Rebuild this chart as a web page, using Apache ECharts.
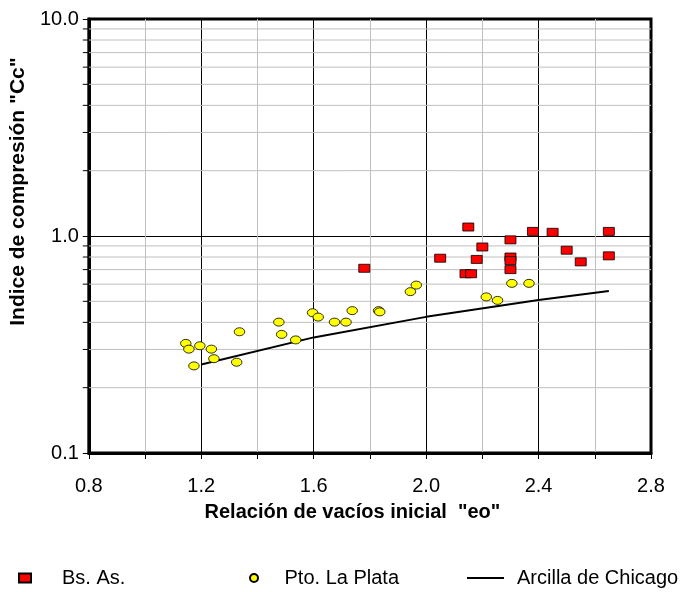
<!DOCTYPE html>
<html>
<head>
<meta charset="utf-8">
<script src="https://cdn.jsdelivr.net/npm/echarts@6/dist/echarts.min.js"></script>
<style>
html,body{margin:0;padding:0;background:#fff;}
#chart{width:684px;height:592px;}
</style>
</head>
<body>
<div id="chart"></div>
<script>
// ---- data ----
const bsAsE  = [1.78, 2.15, 2.38, 2.45, 2.65, 2.30, 2.20, 2.05, 2.18, 2.30, 2.30, 2.30, 2.14, 2.16, 2.50, 2.55, 2.65];
const bsAsCc = [0.71, 1.10, 1.05, 1.04, 1.05, 0.96, 0.89, 0.79, 0.78, 0.80, 0.77, 0.70, 0.67, 0.67, 0.86, 0.76, 0.81];

const plataE  = [1.145, 1.156, 1.195, 1.236, 1.245, 1.174, 1.336, 1.326, 1.476, 1.486, 1.536, 1.596, 1.616, 1.674, 1.715, 1.737, 1.831, 1.835, 1.944, 1.965, 2.214, 2.254, 2.305, 2.366];
const plataCc = [0.320, 0.301, 0.312, 0.301, 0.272, 0.252, 0.362, 0.262, 0.401, 0.352, 0.332, 0.443, 0.423, 0.401, 0.401, 0.453, 0.453, 0.447, 0.554, 0.594, 0.524, 0.505, 0.605, 0.605];

const chicagoE  = [1.2, 1.6, 2.0, 2.4, 2.65];
const chicagoCc = [0.256, 0.341, 0.424, 0.507, 0.558];

const seriesNames = ['Bs. As.', 'Pto. La Plata', 'Arcilla de Chicago'];
const xTitle = 'Relación de vacíos inicial  "eo"';
const yTitle = 'Indice de compresión "Cc"';

const xMin = 0.8, xMax = 2.8, xStep = 0.4;
const yMin = 0.1, yMax = 10;
const yMinorTicks = [0.2, 0.3, 0.4, 0.5, 0.6, 0.7, 0.8, 0.9, 2, 3, 4, 5, 6, 7, 8, 9];

// ---- build ----
const zip = (a, b) => a.map((v, i) => [v, b[i]]);
const FONT = "'Liberation Sans', Arial, sans-serif";
const ellipse = 'path://M0,5 A5,5 0 1,1 10,5 A5,5 0 1,1 0,5 Z';

const chart = echarts.init(document.getElementById('chart'), null, {renderer: 'canvas'});

const legendBase = {
  orient: 'horizontal', top: 568, padding: 0,
  textStyle: {fontFamily: FONT, fontSize: 20, color: '#000'},
  selectedMode: false
};

chart.setOption({
  animation: false,
  backgroundColor: '#fff',
  textStyle: {fontFamily: FONT},
  grid: {
    left: 88, right: 33, top: 19, bottom: 139,
    show: true, borderColor: '#000', borderWidth: 3, backgroundColor: 'transparent'
  },
  xAxis: {
    type: 'value', min: xMin, max: xMax, interval: xStep,
    name: xTitle, nameLocation: 'middle', nameGap: 49,
    nameTextStyle: {fontFamily: FONT, fontSize: 20, fontWeight: 'bold', color: '#000', padding: [0, 35, 0, 0]},
    axisLine: {show: true, onZero: false, lineStyle: {color: '#000', width: 3}},
    axisTick: {show: true, length: 6, lineStyle: {color: '#000', width: 1}},
    minorTick: {show: true, splitNumber: 2, length: 6, lineStyle: {color: '#000', width: 1}},
    axisLabel: {margin: 23, fontFamily: FONT, fontSize: 20, color: '#000',
      formatter: v => v.toFixed(1)},
    splitLine: {show: true, lineStyle: {color: '#000', width: 1}},
    minorSplitLine: {show: true, lineStyle: {color: '#c0c0c0', width: 1}}
  },
  yAxis: {
    type: 'log', logBase: 10, min: yMin, max: yMax,
    name: yTitle, nameLocation: 'middle', nameGap: 55, nameRotate: 90,
    nameTextStyle: {fontFamily: FONT, fontSize: 21, fontWeight: 'bold', color: '#000', padding: [0, 0, 0, 89]},
    axisLine: {show: true, onZero: false, lineStyle: {color: '#000', width: 3}},
    axisTick: {show: true, length: 6, lineStyle: {color: '#000', width: 1}},
    axisLabel: {margin: 10, fontFamily: FONT, fontSize: 20, color: '#000',
      formatter: v => v.toFixed(1)},
    splitLine: {show: true, lineStyle: {color: '#000', width: 1}}
  },
  legend: [
    Object.assign({}, legendBase, {left: 18, data: [seriesNames[0]], itemWidth: 12, itemHeight: 9,
      textStyle: Object.assign({}, legendBase.textStyle, {padding: [0, 0, 0, 26]})}),
    Object.assign({}, legendBase, {left: 249, data: [seriesNames[1]], itemWidth: 11, itemHeight: 8,
      textStyle: Object.assign({}, legendBase.textStyle, {padding: [0, 0, 0, 20]})}),
    Object.assign({}, legendBase, {left: 467, data: [{name: seriesNames[2], icon: 'rect'}], itemWidth: 37, itemHeight: 2,
      itemStyle: {color: '#000', borderWidth: 0},
      textStyle: Object.assign({}, legendBase.textStyle, {padding: [0, 0, 0, 8]})})
  ],
  series: [
    {
      type: 'custom', name: 'minor', silent: true, clip: false, z: 1,
      data: yMinorTicks.map(v => [xMin, v]),
      encode: {x: 0, y: 1},
      renderItem: function (params, api) {
        const p = api.coord([api.value(0), api.value(1)]);
        const cs = params.coordSys;
        return {
          type: 'group',
          children: [
            {type: 'line', shape: {x1: cs.x, y1: p[1], x2: cs.x + cs.width, y2: p[1]},
              style: {stroke: '#c0c0c0', lineWidth: 1}},
            {type: 'line', shape: {x1: cs.x - 6, y1: p[1], x2: cs.x, y2: p[1]},
              style: {stroke: '#000', lineWidth: 1}}
          ]
        };
      }
    },
    {
      type: 'line', name: seriesNames[2], z: 3,
      data: zip(chicagoE, chicagoCc),
      symbol: 'none', showSymbol: false,
      lineStyle: {color: '#000', width: 2},
      itemStyle: {color: '#000'}
    },
    {
      type: 'scatter', name: seriesNames[1], z: 4,
      data: zip(plataE, plataCc),
      symbol: ellipse, symbolSize: [10.5, 8],
      itemStyle: {color: '#ffff00', borderColor: '#000', borderWidth: 0.8, opacity: 1}
    },
    {
      type: 'scatter', name: seriesNames[0], z: 5,
      data: zip(bsAsE, bsAsCc),
      symbol: 'rect', symbolSize: [11, 8],
      itemStyle: {color: '#ff0000', borderColor: '#000', borderWidth: 0.8, opacity: 1}
    }
  ]
});
</script>
</body>
</html>
